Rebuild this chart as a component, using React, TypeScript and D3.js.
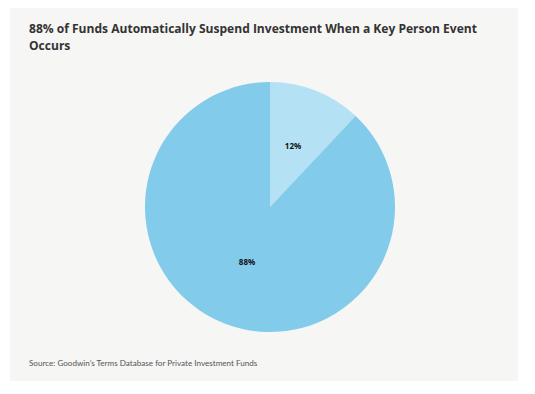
import React, { useEffect, useRef } from "react";
import * as d3 from "d3";

const categories = ["Suspend automatically", "Other"];
const shares = [12, 88];
const labels = ["12%", "88%"];
const sliceColors = ["#b4e1f3", "#82cbea"];

const titleLines = [
  "88% of Funds Automatically Suspend Investment When a Key Person Event",
  "Occurs",
];
const sourceNote = "Source: Goodwin\u2019s Terms Database for Private Investment Funds";

export default function App() {
  const ref = useRef<SVGSVGElement>(null);

  useEffect(() => {
    const width = 535;
    const height = 394;
    const svg = d3.select(ref.current);
    svg.selectAll("*").remove();
    svg.attr("width", width).attr("height", height);

    svg.append("rect")
      .attr("x", 10).attr("y", 8)
      .attr("width", 508).attr("height", 373)
      .attr("fill", "#f6f6f4");

    svg.append("g")
      .selectAll("text")
      .data(titleLines)
      .enter().append("text")
      .attr("x", 29)
      .attr("y", (d, i) => 33 + i * 17)
      .attr("font-family", "'Open Sans', sans-serif")
      .attr("font-weight", 700)
      .attr("font-size", 12.05)
      .attr("fill", "#333")
      .text(d => d);

    const cx = 270, cy = 207, radius = 125;
    const pie = d3.pie<number>().sort(null).value(d => d);
    const arcs = pie(shares);
    const arc = d3.arc<d3.PieArcDatum<number>>().innerRadius(0).outerRadius(radius);
    const labelArc = d3.arc<d3.PieArcDatum<number>>().innerRadius(radius * 0.5).outerRadius(radius * 0.5);

    const g = svg.append("g").attr("transform", `translate(${cx},${cy})`);

    g.selectAll("path")
      .data(arcs)
      .enter().append("path")
      .attr("d", arc)
      .attr("fill", (d, i) => sliceColors[i])
      .append("title")
      .text((d, i) => categories[i]);

    // labels sit with their baseline on the centroid
    g.selectAll("text")
      .data(arcs)
      .enter().append("text")
      .attr("transform", d => `translate(${labelArc.centroid(d)})`)
      .attr("text-anchor", "middle")
      .attr("font-family", "'Open Sans', sans-serif")
      .attr("font-weight", 700)
      .attr("font-size", 8)
      .attr("fill", "#111")
      .text((d, i) => labels[i]);

    svg.append("text")
      .attr("x", 29)
      .attr("y", 366)
      .attr("font-family", "Lato, sans-serif")
      .attr("font-size", 8.1)
      .attr("fill", "#555")
      .text(sourceNote);
  }, []);

  return <svg ref={ref} style={{ position: "absolute", left: 0, top: 0 }} />;
}
